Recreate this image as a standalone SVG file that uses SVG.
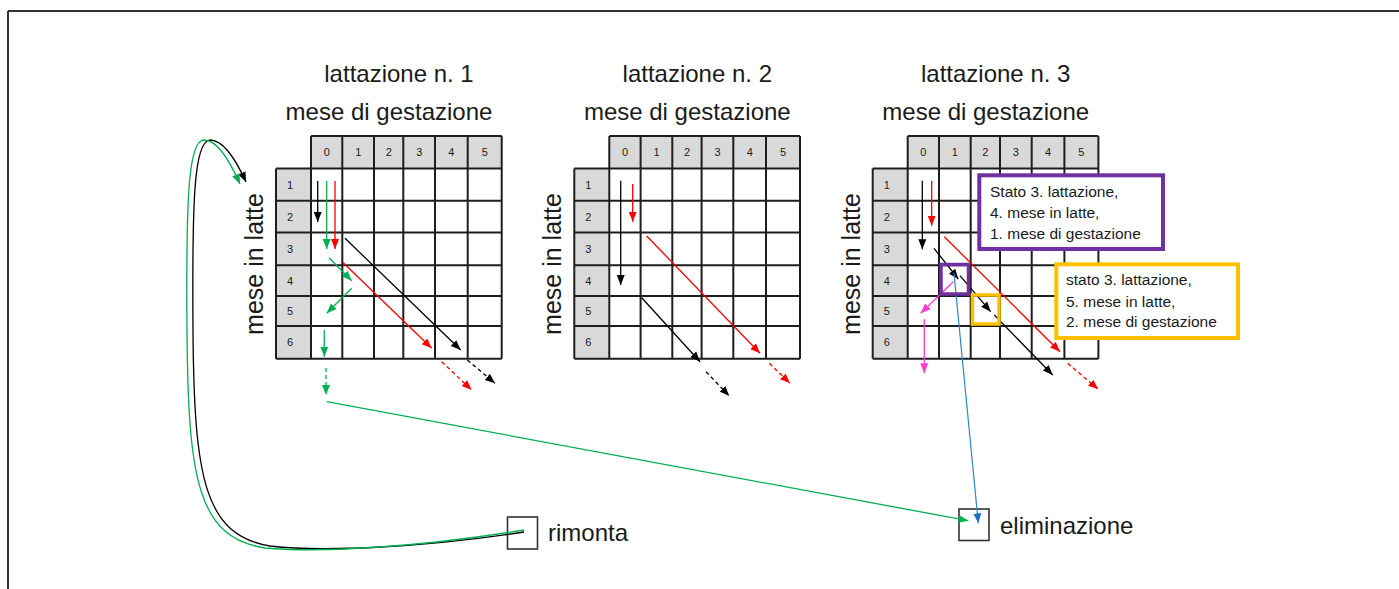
<svg xmlns="http://www.w3.org/2000/svg" xmlns:xlink="http://www.w3.org/1999/xlink" width="1399" height="589" viewBox="0 0 1399 589">
<style>
text{font-family:"Liberation Sans","Open Sans",Arial,sans-serif;fill:#1a1a1a}
.t{font-size:24px;text-anchor:middle}
.v{font-size:25px;text-anchor:middle}
.s{font-size:11px;text-anchor:middle}
.c{font-size:15.5px}
.lab{font-size:24px}
.gl{stroke:#1e1e1e;stroke-width:2;fill:none}
.gr{fill:#d9d9d9}
.k{stroke:#000;stroke-width:1.3;fill:none;marker-end:url(#ak)}
.r{stroke:#ff0000;stroke-width:1.3;fill:none;marker-end:url(#ar)}
.g{stroke:#00b050;stroke-width:1.3;fill:none;marker-end:url(#ag)}
.m{stroke:#ff3ccc;stroke-width:1.3;fill:none;marker-end:url(#am)}
.b{stroke:#2e86c8;stroke-width:1.2;fill:none;marker-end:url(#ab)}
.d{stroke-dasharray:4 3}
.box{fill:#fff;stroke:#333;stroke-width:1.6}
</style>
<defs>
<marker id="ak" viewBox="0 0 10 10" refX="10" refY="5" markerWidth="10" markerHeight="10" markerUnits="userSpaceOnUse" orient="auto"><path d="M0,1 L10,5 L0,9 z" fill="#000"/></marker>
<marker id="ar" viewBox="0 0 10 10" refX="10" refY="5" markerWidth="10" markerHeight="10" markerUnits="userSpaceOnUse" orient="auto"><path d="M0,1 L10,5 L0,9 z" fill="#ff0000"/></marker>
<marker id="ag" viewBox="0 0 10 10" refX="10" refY="5" markerWidth="10" markerHeight="10" markerUnits="userSpaceOnUse" orient="auto"><path d="M0,1 L10,5 L0,9 z" fill="#00b050"/></marker>
<marker id="am" viewBox="0 0 10 10" refX="10" refY="5" markerWidth="10" markerHeight="10" markerUnits="userSpaceOnUse" orient="auto"><path d="M0,1 L10,5 L0,9 z" fill="#ff3ccc"/></marker>
<marker id="ab" viewBox="0 0 10 10" refX="10" refY="5" markerWidth="10" markerHeight="10" markerUnits="userSpaceOnUse" orient="auto"><path d="M0,1 L10,5 L0,9 z" fill="#1f70c0"/></marker>
<g id="gridTpl">
<rect class="gr" x="311" y="136" width="190.7" height="32.5"/>
<rect class="gr" x="276" y="168.5" width="35" height="190.2"/>
<rect fill="#fff" x="311" y="168.5" width="190.7" height="190.2"/>
<path class="gl" d="M311,136H501.7M276,168.5H501.7M276,200.7H501.7M276,232.5H501.7M276,265.2H501.7M276,296H501.7M276,326H501.7M276,358.7H501.7M276,168.5V358.7M311,136V358.7M342.3,136V358.7M374,136V358.7M403.3,136V358.7M435,136V358.7M467.7,136V358.7M501.7,136V358.7"/>
</g>
</defs>
<rect width="1399" height="589" fill="#fff"/>
<path d="M8,11H1399M8,11V589" stroke="#333" stroke-width="2" fill="none"/>

<g id="lattazione1">
<text class="t" x="399" y="82">lattazione n. 1</text>
<text class="t" x="389" y="120">mese di gestazione</text>
<use xlink:href="#gridTpl"/>
<text class="s" x="326.7" y="156">0</text><text class="s" x="358.2" y="156">1</text><text class="s" x="388.7" y="156">2</text><text class="s" x="419.2" y="156">3</text><text class="s" x="451.4" y="156">4</text><text class="s" x="484.7" y="156">5</text>
<text class="s" x="290" y="188.5">1</text><text class="s" x="290" y="220.5">2</text><text class="s" x="290" y="252.8">3</text><text class="s" x="290" y="284.5">4</text><text class="s" x="290" y="315">5</text><text class="s" x="290" y="346.3">6</text>
<text class="v" transform="translate(263,264) rotate(-90)">mese in latte</text>
</g>

<g id="lattazione2" transform="translate(298.3,0)">
<text class="t" x="399" y="82">lattazione n. 2</text>
<text class="t" x="389" y="120">mese di gestazione</text>
<use xlink:href="#gridTpl"/>
<text class="s" x="326.7" y="156">0</text><text class="s" x="358.2" y="156">1</text><text class="s" x="388.7" y="156">2</text><text class="s" x="419.2" y="156">3</text><text class="s" x="451.4" y="156">4</text><text class="s" x="484.7" y="156">5</text>
<text class="s" x="290" y="188.5">1</text><text class="s" x="290" y="220.5">2</text><text class="s" x="290" y="252.8">3</text><text class="s" x="290" y="284.5">4</text><text class="s" x="290" y="315">5</text><text class="s" x="290" y="346.3">6</text>
<text class="v" transform="translate(263,264) rotate(-90)">mese in latte</text>
</g>

<g id="lattazione3" transform="translate(596.7,0)">
<text class="t" x="399" y="82">lattazione n. 3</text>
<text class="t" x="389" y="120">mese di gestazione</text>
<use xlink:href="#gridTpl"/>
<text class="s" x="326.7" y="156">0</text><text class="s" x="358.2" y="156">1</text><text class="s" x="388.7" y="156">2</text><text class="s" x="419.2" y="156">3</text><text class="s" x="451.4" y="156">4</text><text class="s" x="484.7" y="156">5</text>
<text class="s" x="290" y="188.5">1</text><text class="s" x="290" y="220.5">2</text><text class="s" x="290" y="252.8">3</text><text class="s" x="290" y="284.5">4</text><text class="s" x="290" y="315">5</text><text class="s" x="290" y="346.3">6</text>
<text class="v" transform="translate(263,264) rotate(-90)">mese in latte</text>
</g>

<g id="rimonta">
<rect class="box" x="507.5" y="517" width="30" height="32"/>
<text class="lab" x="548" y="541">rimonta</text>
</g>

<g id="eliminazione">
<rect class="box" x="959" y="509" width="30" height="31.5"/>
<text class="lab" x="1000" y="534">eliminazione</text>
</g>

<g id="connectors">
<!-- grid 1 -->
<path class="k" d="M317.7,181V222"/>
<path class="g" d="M326.7,181V249"/>
<path class="r" d="M335,181V249"/>
<path class="k" d="M345,238.3L460.7,350"/>
<path class="r" d="M342.7,262.3L431.7,348.3"/>
<path class="g" d="M329,257.7L351.7,280.7"/>
<path class="g" d="M351.7,288.3L326.7,313.3"/>
<path class="g" d="M324.3,330V356.7"/>
<path class="g d" d="M326,368V395"/>
<path class="r d" d="M441.7,361.7L471.7,390"/>
<path class="k d" d="M467.3,360L495,383.3"/>
<path class="g" d="M326.7,401.7L968.3,520.7"/>
<!-- grid 2 -->
<path class="k" d="M620.7,180.7V285"/>
<path class="r" d="M632.7,184V221.7"/>
<path class="r" d="M646.7,236L760,353.3"/>
<path class="k" d="M641.7,297.7L700,361.7"/>
<path class="k d" d="M706,371.7L729.3,396"/>
<path class="r d" d="M769.3,363.3L790,383.3"/>
<!-- grid 3 -->
<path class="k" d="M922.3,180.7V249.3"/>
<path class="r" d="M931.7,180.7V225.7"/>
<path class="r" d="M944.3,236.7L1060,351.7"/>
<path class="r d" d="M1067.7,363.3L1098.3,389.3"/>
<path class="k" d="M934,248.3L958.3,279"/>
<path class="k" d="M960,275.7L990.7,311.7"/>
<path class="k" d="M994.3,315L1052.7,375"/>
<path class="m" d="M953.3,281.7L920.7,313.3"/>
<path class="m" d="M924.3,319.3V373.3"/>
<path class="b" d="M954,273.3L978.3,523.3"/>
<!-- rimonta loops -->
<path class="k" d="M524,532 C420,548 320,552 270,546 C205,535 194,480 193,330 C192,200 194,141 210,140 C224,140 236,160 246,182"/>
<path class="g" d="M524,530 C420,547 320,553 265,548 C198,538 188,480 187,330 C186,200 188,140 204,140 C218,140 230,162 240,184"/>
</g>

<g id="cella41"><rect x="941" y="264.5" width="27.5" height="29.5" fill="none" stroke="#7030a0" stroke-width="3.5"/></g>
<g id="cella52"><rect x="972.5" y="295" width="26.5" height="29" fill="none" stroke="#ffc000" stroke-width="3.5"/></g>

<g id="stato41">
<rect x="979.3" y="175.3" width="183.7" height="73.7" fill="#fff" stroke="#7030a0" stroke-width="4"/>
<text class="c" x="990" y="196.7">Stato 3. lattazione,</text>
<text class="c" x="990" y="218.3">4. mese in latte,</text>
<text class="c" x="990" y="239">1. mese di gestazione</text>
</g>

<g id="stato52">
<rect x="1056.3" y="264.3" width="181.7" height="73.7" fill="#fff" stroke="#ffc000" stroke-width="4"/>
<text class="c" x="1066" y="285">stato 3. lattazione,</text>
<text class="c" x="1066" y="306.7">5. mese in latte,</text>
<text class="c" x="1066" y="327.3">2. mese di gestazione</text>
</g>
</svg>
